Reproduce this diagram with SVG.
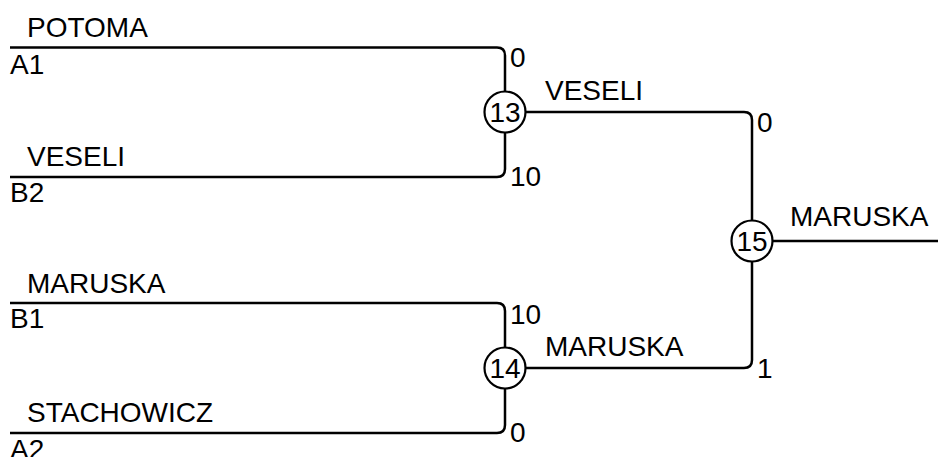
<svg xmlns="http://www.w3.org/2000/svg" width="938" height="457" viewBox="0 0 938 457">
<style>
.ln{fill:none;stroke:#000;stroke-width:2.5}
.nd{fill:#fff;stroke:#000;stroke-width:2.2}
text{font-family:"Liberation Sans",Arial,sans-serif;font-size:28px;fill:#000}
.c{text-anchor:middle}
</style>
<rect width="938" height="457" fill="#fff"/>
<g id="connectors">
<path class="ln" d="M10 47.5 H497 Q505 47.5 505 55.5 V112"/>
<path class="ln" d="M10 177 H497 Q505 177 505 169 V112"/>
<path class="ln" d="M10 303 H497 Q505 303 505 311 V368"/>
<path class="ln" d="M10 433 H497 Q505 433 505 425 V368"/>
<path class="ln" d="M505 112 H744 Q752 112 752 120 V241"/>
<path class="ln" d="M505 368 H744 Q752 368 752 360 V241"/>
<path class="ln" d="M752 241 H938"/>
</g>
<g id="entry-a1">
<text x="27" y="37">POTOMA</text>
<text x="10" y="74">A1</text>
</g>
<g id="entry-b2">
<text x="27" y="166">VESELI</text>
<text x="10" y="202">B2</text>
</g>
<g id="entry-b1">
<text x="27" y="293">MARUSKA</text>
<text x="10" y="328">B1</text>
</g>
<g id="entry-a2">
<text x="27" y="422">STACHOWICZ</text>
<text x="10" y="459">A2</text>
</g>
<g id="node-13">
<circle class="nd" cx="505" cy="112" r="20.5"/>
<text class="c" x="505" y="122">13</text>
<text x="510" y="67">0</text>
<text x="510" y="186">10</text>
<text x="545" y="100">VESELI</text>
</g>
<g id="node-14">
<circle class="nd" cx="505" cy="368" r="20.5"/>
<text class="c" x="505" y="378">14</text>
<text x="510" y="324">10</text>
<text x="510" y="442">0</text>
<text x="545" y="356">MARUSKA</text>
</g>
<g id="node-15">
<circle class="nd" cx="752" cy="241" r="20.5"/>
<text class="c" x="752" y="251">15</text>
<text x="757" y="132">0</text>
<text x="757" y="378">1</text>
<text x="790" y="226">MARUSKA</text>
</g>
</svg>
